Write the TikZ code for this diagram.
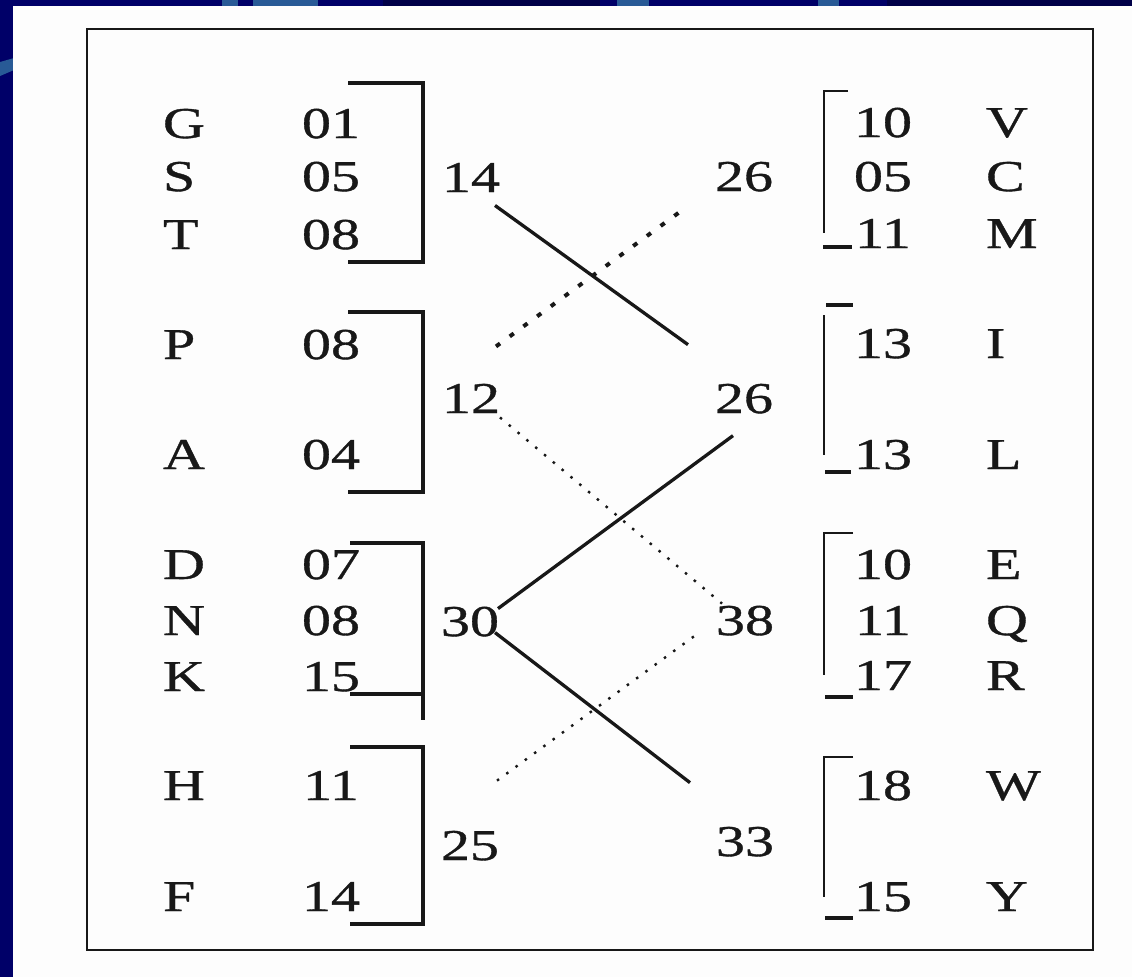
\documentclass[tikz,border=0pt]{standalone}
\usepackage{fontspec}
\setmainfont{Liberation Serif}[FakeStretch=1.32, FakeBold=0.8]
\usetikzlibrary{calc}

\definecolor{navy}{RGB}{0,0,104}
\definecolor{deepnavy}{RGB}{0,0,72}
\definecolor{swoosh}{RGB}{40,90,150}
\definecolor{paper}{RGB}{253,253,253}
\definecolor{ink}{RGB}{24,24,24}

\tikzset{
  lbl/.style={inner sep=0pt, outer sep=0pt, text=ink, font=\fontsize{44}{44}\selectfont},
  lname/.style={lbl, anchor=base west},
  lnum/.style={lbl, anchor=base},
  brack/.style={draw=ink, line width=3.6pt},
  rbrack/.style={draw=ink, line width=2.6pt},
  rtick/.style={draw=ink, line width=3.6pt},
  solidlink/.style={draw=ink, line width=3.3pt},
  heavydots/.style={draw=ink, line width=4pt, dash pattern=on 5pt off 12pt},
  finedots/.style={draw=ink, line width=2.4pt, dash pattern=on 2.5pt off 9pt},
  frame/.style={draw=ink, line width=2.5pt},
}

\begin{document}
\begin{tikzpicture}[x=1pt, y=-1pt]
\useasboundingbox (0,0) rectangle (1132,977);

% slide background with a few lighter swooshes
\fill[navy] (0,0) rectangle (1132,977);
\fill[deepnavy] (383,0) rectangle (600,8);
\fill[deepnavy] (887,0) rectangle (1132,8);
\fill[swoosh] (222,0) rectangle (238,8);
\fill[swoosh] (253,0) rectangle (318,8);
\fill[swoosh] (617,0) rectangle (649,8);
\fill[swoosh] (818,0) rectangle (839,8);
\fill[swoosh] (0,62) -- (14,58) -- (14,70) -- (0,76) -- cycle;

% white page and frame
\fill[paper] (13,6) rectangle (1132,977);
\draw[frame] (87,29) rectangle (1093,950);

% left column: letters and values
\foreach \l/\v/\y [count=\i] in {G/01/123, S/05/176, T/08/234, P/08/344, A/04/454,
                                  D/07/564, N/08/620, K/15/676, H/11/785, F/14/896} {
  \node[lname] (ln\i) at (163,\y+15) {\l};
  \node[lnum]  (lv\i) at (331,\y+15) {\v};
}

% right column: values and letters
\foreach \v/\l/\y [count=\i] in {10/V/122, 05/C/176, 11/M/233, 13/I/343, 13/L/454,
                                  10/E/564, 11/Q/620, 17/R/675, 18/W/785, 15/Y/896} {
  \node[lnum]  (rv\i) at (883,\y+15) {\v};
  \node[lname] (rn\i) at (986,\y+15) {\l};
}

% group sums
\node[lnum] (l14) at (471,192) {14};
\node[lnum] (l12) at (471,413) {12};
\node[lnum] (l30) at (470,636) {30};
\node[lnum] (l25) at (470,860) {25};
\node[lnum] (r26a) at (744,191) {26};
\node[lnum] (r26b) at (744,413) {26};
\node[lnum] (r38) at (745,635) {38};
\node[lnum] (r33) at (745,856) {33};

% left brackets
\draw[brack] (348,83) -- (423,83) -- (423,262) -- (348,262);
\draw[brack] (348,312) -- (423,312) -- (423,492) -- (348,492);
\draw[brack] (350,543) -- (423,543) -- (423,720);
\draw[brack] (350,694) -- (423,694);
\draw[brack] (350,747) -- (423,747) -- (423,924) -- (350,924);

% right brackets
\draw[rbrack] (848,91) -- (824,91) -- (824,233);
\draw[rtick] (823,247) -- (852,247);
\draw[rtick] (826,305) -- (853,305);
\draw[rbrack] (824,315) -- (824,455);
\draw[rtick] (825,472) -- (851,472);
\draw[rbrack] (853,533) -- (824,533) -- (824,675);
\draw[rtick] (825,697) -- (853,697);
\draw[rbrack] (853,757) -- (824,757) -- (824,897);
\draw[rtick] (825,918) -- (853,918);

% pairings between the two sides
\draw[solidlink] ($(l14.center)+(24,28)$) -- ($(r26b.center)+(-56,-54)$);
\draw[heavydots] ($(l12.center)+(25,-52)$) -- ($(r26a.center)+(-57,30)$);
\draw[finedots]  ($(l12.center)+(29,19)$) -- ($(r38.center)+(-23,-17)$);
\draw[solidlink] ($(l30.center)+(28,-13)$) -- ($(r26b.center)+(-11,37)$);
\draw[solidlink] ($(l30.center)+(25,11)$) -- ($(r33.center)+(-55,-59)$);
\draw[finedots]  ($(l25.center)+(27,-65)$) -- ($(r38.center)+(-50,15)$);
\end{tikzpicture}
\end{document}
